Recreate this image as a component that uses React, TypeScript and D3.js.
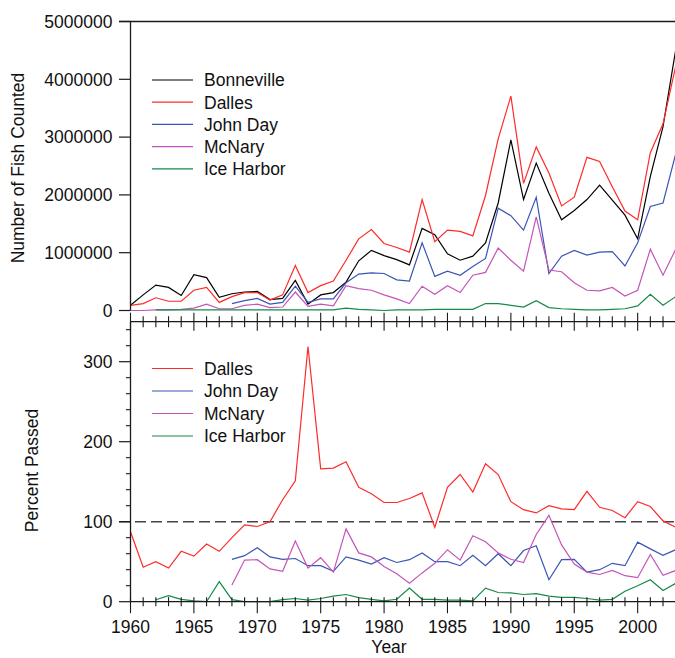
import React from 'react'
import * as d3 from 'd3'

// years on the x axis
const years = d3.range(1960, 2004)

// fish counted, in millions, 1960-2003 (null = no count)
const bonneville = [0.09, 0.27, 0.44, 0.40, 0.26, 0.62, 0.57, 0.23, 0.29, 0.32,
  0.33, 0.19, 0.21, 0.52, 0.11, 0.27, 0.31, 0.49, 0.86, 1.04,
  0.95, 0.88, 0.79, 1.42, 1.31, 0.98, 0.87, 0.94, 1.17, 1.86,
  2.95, 1.92, 2.55, 2.03, 1.57, 1.73, 1.92, 2.17, 1.91, 1.65,
  1.24, 2.32, 3.18, 4.51]
const dalles = [0.09, 0.12, 0.22, 0.16, 0.16, 0.35, 0.40, 0.14, 0.24, 0.31,
  0.31, 0.18, 0.27, 0.78, 0.31, 0.43, 0.51, 0.87, 1.24, 1.40,
  1.16, 1.09, 1.01, 1.92, 1.19, 1.39, 1.37, 1.29, 1.99, 2.97,
  3.71, 2.20, 2.83, 2.38, 1.81, 1.96, 2.65, 2.58, 2.14, 1.72,
  1.57, 2.73, 3.23, 4.23]
const johnDay = [null, null, null, null, null, null, null, null, 0.12, 0.17,
  0.21, 0.11, 0.14, 0.42, 0.14, 0.20, 0.20, 0.48, 0.63, 0.65,
  0.64, 0.53, 0.51, 1.17, 0.59, 0.68, 0.61, 0.76, 0.90, 1.77,
  1.64, 1.39, 1.96, 0.64, 0.94, 1.04, 0.96, 1.01, 1.02, 0.77,
  1.17, 1.80, 1.86, 2.71]
const mcNary = [0.0, 0.0, 0.01, 0.01, 0.02, 0.04, 0.11, 0.03, 0.03, 0.09,
  0.11, 0.05, 0.06, 0.32, 0.07, 0.11, 0.08, 0.43, 0.38, 0.35,
  0.27, 0.20, 0.12, 0.42, 0.28, 0.43, 0.31, 0.61, 0.66, 1.08,
  0.87, 0.68, 1.62, 0.70, 0.67, 0.48, 0.35, 0.34, 0.40, 0.25,
  0.35, 1.06, 0.61, 1.06]
const iceHarbor = [null, null, 0.01, 0.01, 0.01, 0.01, 0.01, 0.01, 0.01, 0.01,
  0.01, 0.01, 0.01, 0.01, 0.01, 0.01, 0.01, 0.04, 0.02, 0.01,
  0.0, 0.01, 0.01, 0.01, 0.02, 0.02, 0.02, 0.02, 0.12, 0.12,
  0.09, 0.06, 0.17, 0.05, 0.03, 0.02, 0.01, 0.01, 0.02, 0.03,
  0.08, 0.28, 0.09, 0.24]

// percent passed, 1960-2003
const dallesPct = [87.5, 43, 50, 42, 63, 57, 72, 63, 80, 96,
  94, 100, 127.5, 151, 319, 166, 167, 175, 143, 135,
  124, 124, 129, 136, 93, 143, 159, 137, 172.5, 159,
  125, 115, 111, 120, 116, 115, 138, 118, 114, 105,
  125, 119, 101, 93]
const johnDayPct = [null, null, null, null, null, null, null, null, 53, 57.5,
  67.5, 56, 53, 54, 45, 45, 38, 56, 52, 47,
  55, 49, 52.5, 61, 50, 50, 45, 58, 45, 60,
  45, 64, 70, 27.5, 52.5, 53, 37, 40, 48, 45,
  74.5, 66, 58, 65]
const mcNaryPct = [null, null, null, null, null, null, null, null, 21, 52,
  52.5, 41, 38, 76, 42, 55, 37, 91, 61, 56,
  44, 35, 23, 36, 48, 65, 52, 82.5, 75, 61,
  53, 49, 84, 108, 71, 47, 37, 34, 39, 32.5,
  30, 59, 33, 39]
const iceHarborPct = [null, null, 2.5, 7.5, 3, 1, 0, 25, 2.5, 0,
  0, 0, 2.5, 4, 2, 4, 7, 9, 5, 3,
  1, 3, 17, 3, 3, 2, 2, 1, 17, 11.5,
  11, 9, 10, 7, 5.5, 5.5, 4, 2, 3, 13,
  20, 27.5, 14, 23]

const countTicks = [0, 1000000, 2000000, 3000000, 4000000, 5000000]
const pctTicks = [0, 100, 200, 300]
const yearLabels = [1960, 1965, 1970, 1975, 1980, 1985, 1990, 1995, 2000]

const topSeries = [
  { name: 'Bonneville', values: bonneville, color: '#000000' },
  { name: 'Dalles', values: dalles, color: '#ff2a2a' },
  { name: 'John Day', values: johnDay, color: '#3a55b4' },
  { name: 'McNary', values: mcNary, color: '#c455b8' },
  { name: 'Ice Harbor', values: iceHarbor, color: '#168a48' }
]
const bottomSeries = [
  { name: 'Dalles', values: dallesPct, color: '#ff2a2a' },
  { name: 'John Day', values: johnDayPct, color: '#3a55b4' },
  { name: 'McNary', values: mcNaryPct, color: '#c455b8' },
  { name: 'Ice Harbor', values: iceHarborPct, color: '#168a48' }
]

const W = 675
const H = 658
const font = '"Liberation Sans", Arial, Helvetica, sans-serif'
const fs = 17.5
const axisColor = '#1a1a1a'

export default function App () {
  const x = d3.scaleLinear().domain([1960, 2003]).range([130.5, 675.7])
  const yTop = d3.scaleLinear().domain([0, 5000000]).range([310.5, 21.5])
  const yBot = d3.scaleLinear().domain([0, 350]).range([601.7, 321.7])
  const left = x(1960)

  const topLine = d3.line<number | null>()
    .defined(d => d != null)
    .x((d, i) => x(years[i]))
    .y(d => yTop((d as number) * 1e6))
  const botLine = d3.line<number | null>()
    .defined(d => d != null)
    .x((d, i) => x(years[i]))
    .y(d => yBot(d as number))

  const minorPct = d3.range(0, 351, 20).filter(v => v % 100 !== 0)

  return (
    <svg width={W} height={H} style={{ position: 'absolute', left: 0, top: 0, background: '#fff' }}
      fontFamily={font} fontSize={fs}>
      {/* top panel */}
      <g>
        {topSeries.map(s => (
          <path key={s.name} d={topLine(s.values) || ''} fill='none' stroke={s.color} strokeWidth={1.2} />
        ))}
        <line x1={119} x2={W} y1={yTop(5000000)} y2={yTop(5000000)} stroke={axisColor} strokeWidth={1.3} />
        <line x1={left} x2={left} y1={yTop(5000000)} y2={yTop(0)} stroke={axisColor} strokeWidth={1.3} />
        {countTicks.map(v => (
          <g key={v} transform={`translate(${left},${yTop(v)})`}>
            <line x1={-11.5} x2={0} stroke={axisColor} strokeWidth={1.2} />
            <text x={-18} dy='0.36em' textAnchor='end' fill='#111'>{v}</text>
          </g>
        ))}
        <text transform={`translate(24,${yTop(2500000) + 2}) rotate(-90)`} textAnchor='middle' fill='#111'>Number of Fish Counted</text>
        {topSeries.map((s, i) => (
          <g key={s.name} transform={`translate(152,${80 + i * 22.2})`}>
            <line x1={0} x2={41} stroke={s.color} strokeWidth={1.2} />
            <text x={52} dy='0.36em' fill='#111'>{s.name}</text>
          </g>
        ))}
      </g>

      {/* bottom panel */}
      <g>
        <line x1={119} x2={W} y1={yBot(100)} y2={yBot(100)} stroke='#444' strokeWidth={1.5} strokeDasharray='11,5' />
        {bottomSeries.map(s => (
          <path key={s.name} d={botLine(s.values) || ''} fill='none' stroke={s.color} strokeWidth={1.2} />
        ))}
        <line x1={left} x2={W} y1={yBot(350)} y2={yBot(350)} stroke={axisColor} strokeWidth={1.3} />
        <line x1={left} x2={W} y1={yBot(0)} y2={yBot(0)} stroke={axisColor} strokeWidth={1.3} />
        <line x1={left} x2={left} y1={yBot(350)} y2={yBot(0)} stroke={axisColor} strokeWidth={1.3} />
        {years.map(yr => {
          const major = yr % 5 === 0
          return (
            <g key={yr} transform={`translate(${x(yr)},0)`}>
              <line y1={yBot(350) - (major ? 9 : 5.5)} y2={yBot(350) + (major ? 9 : 5.5)} stroke={axisColor} strokeWidth={1.1} />
              <line y1={yBot(0) - 4.5} y2={yBot(0) + (major ? 11.5 : 4.5)} stroke={axisColor} strokeWidth={1.1} />
            </g>
          )
        })}
        {yearLabels.map(yr => (
          <text key={yr} x={x(yr)} y={633} textAnchor='middle' fill='#111'>{yr}</text>
        ))}
        <text x={389} y={653} textAnchor='middle' fill='#111'>Year</text>
        {pctTicks.map(v => (
          <g key={v} transform={`translate(${left},${yBot(v)})`}>
            <line x1={-11.5} x2={0} stroke={axisColor} strokeWidth={1.2} />
            <text x={-18} dy='0.36em' textAnchor='end' fill='#111'>{v}</text>
          </g>
        ))}
        {minorPct.map(v => (
          <line key={v} x1={left - 4.5} x2={left} y1={yBot(v)} y2={yBot(v)} stroke={axisColor} strokeWidth={1.1} />
        ))}
        <text transform={`translate(38,${yBot(164)}) rotate(-90)`} textAnchor='middle' fill='#111'>Percent Passed</text>
        {bottomSeries.map((s, i) => (
          <g key={s.name} transform={`translate(152,${368.5 + i * 22.5})`}>
            <line x1={0} x2={41} stroke={s.color} strokeWidth={1.2} />
            <text x={52} dy='0.36em' fill='#111'>{s.name}</text>
          </g>
        ))}
      </g>
    </svg>
  )
}
